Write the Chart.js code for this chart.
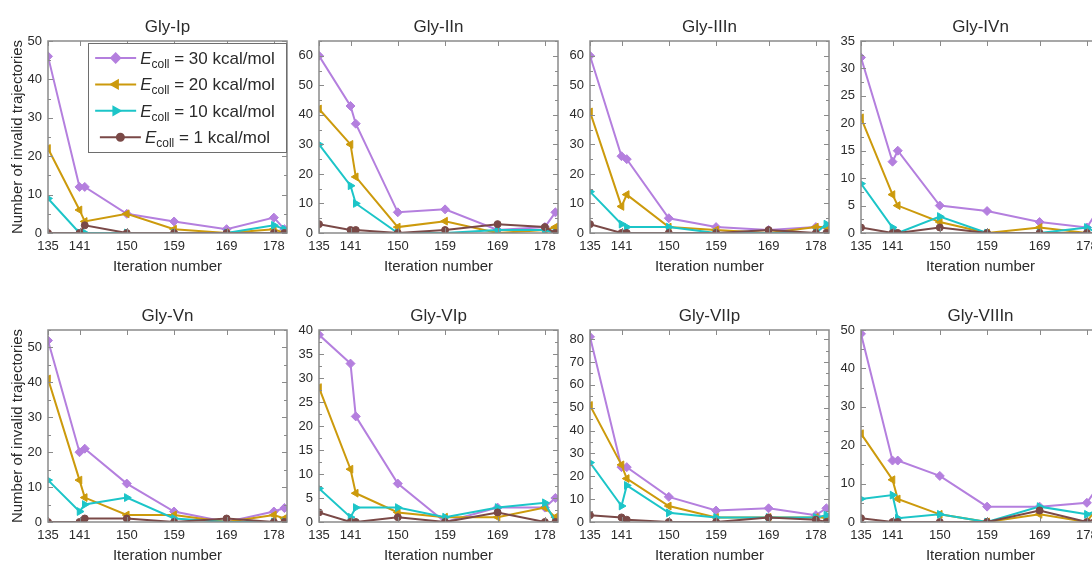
<!DOCTYPE html>
<html>
<head>
<meta charset="utf-8">
<script src="https://cdn.jsdelivr.net/npm/chart.js@4.4.0/dist/chart.umd.min.js"></script>
<style>
  html, body { margin: 0; padding: 0; background: #fff; overflow: hidden; }
  #grid { position: relative; width: 1092px; height: 562px; overflow: hidden; }
  #grid canvas { position: absolute; }
</style>
</head>
<body>
<div id="grid"></div>
<script>
/* Invalid trajectories per iteration, eight glycine conformers, four collision energies */
var ITERS = [135, 141, 142, 150, 159, 169, 178, 180];
var XTICKS = [135, 141, 150, 159, 169, 178];
var PANELS = ['Gly-Ip', 'Gly-IIn', 'Gly-IIIn', 'Gly-IVn', 'Gly-Vn', 'Gly-VIp', 'Gly-VIIp', 'Gly-VIIIn'];
var YMAX = [50, 65, 65, 35, 55, 40, 84, 50];
var YSTEP = [10, 10, 10, 5, 10, 5, 10, 10];
var ENERGIES = [30, 20, 10, 1];

var E30 = [
  [46, 12, 12, 5, 3, 1, 4, 1],
  [60, 43, 37, 7, 8, 1, 2, 7],
  [60, 26, 25, 5, 2, 1, 2, 2],
  [32, 13, 15, 5, 4, 2, 1, 4],
  [52, 20, 21, 11, 3, 0, 3, 4],
  [39, 33, 22, 8, 0, 3, 3, 5],
  [81, 24, 24, 11, 5, 6, 3, 6],
  [49, 16, 16, 12, 4, 4, 5, 9]
];
var E20 = [
  [22, 6, 3, 5, 1, 0, 1, 0],
  [42, 30, 19, 2, 4, 0, 1, 2],
  [41, 9, 13, 2, 1, 0, 2, 2],
  [21, 7, 5, 2, 0, 1, 0, 0],
  [41, 12, 7, 2, 2, 0, 2, 1],
  [28, 11, 6, 2, 1, 1, 3, 1],
  [51, 25, 19, 7, 2, 2, 2, 2],
  [23, 11, 6, 2, 0, 2, 0, 4]
];
var E10 = [
  [9, 0, 0, 0, 0, 0, 2, 1],
  [30, 16, 10, 0, 0, 1, 1, 0],
  [14, 3, 2, 2, 0, 0, 0, 3],
  [9, 1, 0, 3, 0, 0, 1, 0],
  [12, 3, 5, 7, 1, 0, 0, 0],
  [7, 1, 3, 3, 1, 3, 4, 0],
  [26, 7, 16, 4, 2, 2, 2, 3],
  [6, 7, 1, 2, 0, 4, 2, 3]
];
var E1 = [
  [0, 0, 2, 0, 0, 0, 0, 0],
  [3, 1, 1, 0, 1, 3, 2, 0],
  [3, 0, 0, 0, 0, 1, 0, 0],
  [1, 0, 0, 1, 0, 0, 0, 0],
  [0, 0, 1, 1, 0, 1, 0, 0],
  [2, 0, 0, 1, 0, 2, 0, 0],
  [3, 2, 1, 0, 0, 2, 1, 0],
  [1, 0, 0, 0, 0, 3, 0, 1]
];

var PURPLE = '#B47FDE', GOLD = '#CC9A0C', CYAN = '#1CC5C8', BROWN = '#7A4947',
    FRAME = '#8A8A8A', TXT = '#2B2B2B';

// one style per collision energy: colour, marker, marker rotation, radius
var STYLES = [
  { color: PURPLE, shape: 'rectRot', rot: 0, r: 4.5, series: E30 },
  { color: GOLD, shape: 'triangle', rot: -90, r: 4.5, series: E20 },
  { color: CYAN, shape: 'triangle', rot: 90, r: 4.5, series: E10 },
  { color: BROWN, shape: 'circle', rot: 0, r: 3.5, series: E1 }
];

var FONT = "'Liberation Sans', Arial, sans-serif";
Chart.defaults.font.family = FONT;
Chart.defaults.color = TXT;

var PLOT_W = 239, PLOT_H = 192, LEFT_W = 48, TOP_H = 41, BOTTOM_H = 48, RIGHT_PAD = 6;
var COL_X = [0, 271, 542, 813], ROW_Y = [0, 289];

/* ---------- frame with inward ticks on all four sides ---------- */
var framePlugin = {
  id: 'frame',
  afterDatasetsDraw: function (chart) {
    var a = chart.chartArea, ctx = chart.ctx, xs = chart.scales.x, ys = chart.scales.y;
    var step = chart.options.scales.y.ticks.stepSize;
    ctx.save();
    ctx.strokeStyle = FRAME;
    ctx.lineWidth = 1;
    ctx.beginPath();
    XTICKS.forEach(function (v) {
      var px = Math.round(xs.getPixelForValue(v)) + 0.5;
      ctx.moveTo(px, a.bottom); ctx.lineTo(px, a.bottom - 5);
      ctx.moveTo(px, a.top); ctx.lineTo(px, a.top + 5);
    });
    for (var v = 0, k = 0; v <= ys.max + 1e-6; v += step / 2, k++) {
      var py = Math.round(ys.getPixelForValue(v)) + 0.5, len = k % 2 === 0 ? 5 : 3;
      ctx.moveTo(a.left, py); ctx.lineTo(a.left + len, py);
      ctx.moveTo(a.right, py); ctx.lineTo(a.right - len, py);
    }
    ctx.stroke();
    ctx.lineWidth = 1.5;
    ctx.strokeRect(a.left, a.top, a.right - a.left, a.bottom - a.top);
    ctx.restore();
  }
};

/* ---------- panel heading ---------- */
var headingPlugin = {
  id: 'heading',
  afterDraw: function (chart, args, opts) {
    var a = chart.chartArea, ctx = chart.ctx;
    ctx.save();
    ctx.fillStyle = TXT;
    ctx.font = '17px ' + FONT;
    ctx.textAlign = 'center';
    ctx.textBaseline = 'alphabetic';
    ctx.fillText(opts.text, (a.left + a.right) / 2, a.top - 9);
    ctx.restore();
  }
};

/* ---------- legend box (first panel only) ---------- */
var energyLegend = {
  id: 'energyLegend',
  afterDraw: function (chart, args, opts) {
    if (!opts.show) return;
    var ctx = chart.ctx;
    var box = { l: 88, t: 43, r: 286, b: 152 };
    ctx.save();
    ctx.fillStyle = '#fff';
    ctx.fillRect(box.l, box.t, box.r - box.l, box.b - box.t);
    ctx.strokeStyle = '#6E6E6E';
    ctx.lineWidth = 1;
    ctx.strokeRect(box.l + 0.5, box.t + 0.5, box.r - box.l, box.b - box.t);

    var bigFont = '17px ' + FONT, itFont = 'italic 17px ' + FONT, subFont = '12px ' + FONT;
    var cx = 185, lineLen = 41, gap = 4;
    STYLES.forEach(function (st, i) {
      var y = 58 + i * 26.4;
      var rest = ' = ' + ENERGIES[i] + ' kcal/mol';
      ctx.font = itFont; var wE = ctx.measureText('E').width;
      ctx.font = subFont; var wS = ctx.measureText('coll').width;
      ctx.font = bigFont; var wR = ctx.measureText(rest).width;
      var total = lineLen + gap + wE + wS + wR;
      var x0 = cx - total / 2;

      ctx.strokeStyle = st.color;
      ctx.lineWidth = 2;
      ctx.beginPath(); ctx.moveTo(x0, y); ctx.lineTo(x0 + lineLen, y); ctx.stroke();
      ctx.fillStyle = st.color;
      Chart.helpers.drawPoint(ctx, { pointStyle: st.shape, radius: st.r, rotation: st.rot, borderWidth: 1 },
        x0 + lineLen / 2, y);

      var tx = x0 + lineLen + gap, base = y + 6;
      ctx.fillStyle = TXT;
      ctx.textBaseline = 'alphabetic';
      ctx.textAlign = 'left';
      ctx.font = itFont; ctx.fillText('E', tx, base); tx += wE;
      ctx.font = subFont; ctx.fillText('coll', tx, base + 4); tx += wS;
      ctx.font = bigFont; ctx.fillText(rest, tx, base);
    });
    ctx.restore();
  }
};

var grid = document.getElementById('grid');

PANELS.forEach(function (name, p) {
  var col = p % 4, row = Math.floor(p / 4);
  var canvas = document.createElement('canvas');
  canvas.width = LEFT_W + PLOT_W + RIGHT_PAD;
  canvas.height = TOP_H + PLOT_H + BOTTOM_H;
  canvas.style.left = COL_X[col] + 'px';
  canvas.style.top = ROW_Y[row] + 'px';
  grid.appendChild(canvas);

  var datasets = STYLES.map(function (st, s) {
    return {
      label: 'E_coll = ' + ENERGIES[s] + ' kcal/mol',
      data: ITERS.map(function (x, j) { return { x: x, y: st.series[p][j] }; }),
      borderColor: st.color,
      backgroundColor: st.color,
      borderWidth: 2,
      pointStyle: st.shape,
      pointRotation: st.rot,
      pointRadius: st.r,
      pointBorderWidth: 1,
      tension: 0,
      order: 3 - s
    };
  });

  new Chart(canvas, {
    type: 'line',
    data: { datasets: datasets },
    plugins: [framePlugin, headingPlugin, energyLegend],
    options: {
      responsive: false,
      animation: false,
      events: [],
      layout: { padding: { top: TOP_H, right: RIGHT_PAD, left: 0, bottom: 0 } },
      plugins: {
        legend: { display: false },
        tooltip: { enabled: false },
        heading: { text: name },
        energyLegend: { show: p === 0 }
      },
      scales: {
        x: {
          type: 'linear',
          min: 135, max: 180.5,
          grid: { display: false, drawTicks: false },
          border: { display: false },
          afterBuildTicks: function (s) { s.ticks = XTICKS.map(function (v) { return { value: v }; }); },
          afterFit: function (s) { s.height = BOTTOM_H; },
          ticks: { autoSkip: false, maxRotation: 0, padding: 6, color: TXT, font: { size: 13 } },
          title: { display: true, text: 'Iteration number', color: TXT, font: { size: 15 },
                   padding: { top: 0, bottom: 5 } }
        },
        y: {
          min: 0, max: YMAX[p],
          grid: { display: false, drawTicks: false },
          border: { display: false },
          afterFit: function (s) { s.width = LEFT_W; },
          ticks: { stepSize: YSTEP[p], includeBounds: false, padding: 6, color: TXT, font: { size: 13 } },
          title: { display: col === 0, text: 'Number of invalid trajectories', color: TXT,
                   font: { size: 15 }, padding: { top: 9, bottom: 0 } }
        }
      }
    }
  });
});
</script>
</body>
</html>
